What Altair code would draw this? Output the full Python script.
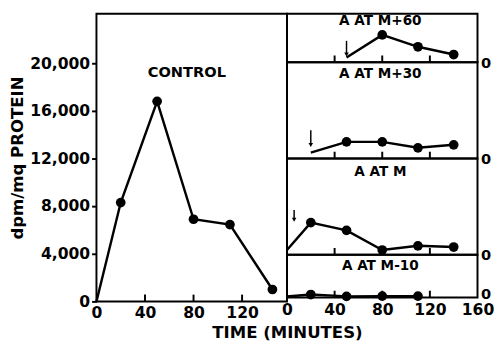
import altair as alt
import pandas as pd

# ---- data ----
control_x = [0, 20, 50, 80, 110, 145]
control_y = [0, 8300, 16800, 6900, 6450, 1000]
control_dot = [False, True, True, True, True, True]

panel_titles = ["A AT M+60", "A AT M+30", "A AT M", "A AT M-10"]
panel_x = [
    [50, 80, 110, 140],
    [20, 50, 80, 110, 140],
    [0, 20, 50, 80, 110, 140],
    [0, 20, 50, 80, 110],
]
panel_y = [
    [400, 2300, 1300, 650],
    [500, 1400, 1400, 900, 1150],
    [400, 2700, 2050, 400, 750, 650],
    [80, 250, 100, 120, 120],
]
panel_ymax = [4080, 8080, 8080, 3590]
arrow_x = [50, 20, 6]
arrow_top = [1800, 2370, 3750]
arrow_tip = [650, 1140, 2940]

left_ticks_x = [0, 40, 80, 120]
left_ticks_y = [0, 4000, 8000, 12000, 16000, 20000]
right_ticks_x = [0, 40, 80, 120, 160]
inner_ticks_x = [40, 80, 120]

FONT = "DejaVu Sans"
LW = 2.5
DOT = 100
TICK = 7


def inner_ticks(X, h):
    return alt.Chart(pd.DataFrame({"t": inner_ticks_x})).mark_rule(
        color="black", strokeWidth=2
    ).encode(x=X, y=alt.value(h), y2=alt.value(h - TICK))


# ---- left (control) panel ----
cdf = pd.DataFrame({"t": control_x, "v": control_y, "dot": control_dot})
LX = alt.X(
    "t:Q",
    scale=alt.Scale(domain=[0, 157], nice=False),
    axis=alt.Axis(
        values=left_ticks_x, grid=False, domain=False, ticks=False,
        labelPadding=4, labelFontSize=16, labelFlush=False,
        title="TIME (MINUTES)", titleX=196, titleY=37, titleAlign="center",
        titleBaseline="alphabetic", titleFontSize=17,
    ),
)
LY = alt.Y(
    "v:Q",
    scale=alt.Scale(domain=[0, 24160], nice=False),
    axis=alt.Axis(
        values=left_ticks_y, format=",d", grid=False, domain=False,
        tickSize=5, tickWidth=2, labelPadding=2, labelFontSize=16,
        title="dpm/mq PROTEIN", titleFontSize=17, titlePadding=3,
    ),
)
cbase = alt.Chart(cdf).encode(x=LX, y=LY)
cline = cbase.mark_line(color="black", strokeWidth=LW)
cpts = cbase.mark_circle(color="black", opacity=1, size=DOT).transform_filter("datum.dot")
ctext = alt.Chart(pd.DataFrame({"label": ["CONTROL"]})).mark_text(
    fontSize=15, color="black", font=FONT, fontWeight="bold"
).encode(text="label:N", x=alt.value(93), y=alt.value(60))
left = alt.layer(cline, cpts, inner_ticks(LX, 296), ctext).properties(width=196, height=296)

# ---- right panels ----
heights = [50, 99, 99, 44]
title_dy = [8, 12, 14, 12]
panels = []
for i in range(4):
    last = i == 3
    h = heights[i]
    df = pd.DataFrame({
        "t": panel_x[i],
        "v": panel_y[i],
        "dot": [False] + [True] * (len(panel_x[i]) - 1),
    })
    if last:
        xaxis = alt.Axis(
            values=right_ticks_x, grid=False, domain=False, ticks=False,
            labelPadding=4, labelFontSize=16, labelFlush=False, title=None,
        )
    else:
        xaxis = alt.Axis(
            values=right_ticks_x, grid=False, domain=False, labels=False,
            ticks=False, title=None,
        )
    X = alt.X("t:Q", scale=alt.Scale(domain=[0, 160], nice=False), axis=xaxis)
    Y = alt.Y(
        "v:Q",
        scale=alt.Scale(domain=[0, panel_ymax[i]], nice=False),
        axis=alt.Axis(
            orient="right", values=[0], grid=False, domain=False, ticks=False,
            labelPadding=3, labelFontSize=15, title=None,
            labelOffset=-4 if last else 0,
        ),
    )
    base = alt.Chart(df).encode(x=X, y=Y)
    layers = [
        inner_ticks(X, h),
        base.mark_line(color="black", strokeWidth=LW),
        base.mark_circle(color="black", opacity=1, size=DOT).transform_filter("datum.dot"),
    ]
    if i < 3:
        adf = pd.DataFrame({"t": [arrow_x[i]], "v": [arrow_top[i]], "v2": [arrow_tip[i]]})
        tdf = pd.DataFrame({"t": [arrow_x[i]], "v": [arrow_tip[i]]})
        layers.append(alt.Chart(adf).mark_rule(color="black", strokeWidth=1.5).encode(x=X, y=Y, y2="v2:Q"))
        layers.append(
            alt.Chart(tdf).mark_point(shape="triangle-down", filled=True, color="black", opacity=1, size=22)
            .encode(x=X, y=Y)
        )
    layers.append(
        alt.Chart(pd.DataFrame({"label": [panel_titles[i]]})).mark_text(
            fontSize=14, color="black", font=FONT, fontWeight="bold"
        ).encode(text="label:N", x=alt.value(96), y=alt.value(title_dy[i]))
    )
    panels.append(alt.layer(*layers).properties(width=196, height=h))

right = alt.vconcat(*panels, spacing=0, bounds="flush")

chart = (
    alt.hconcat(left, right, spacing=0, bounds="flush")
    .properties(padding=0)
    .configure_view(stroke="black", strokeWidth=2)
    .configure_axis(
        labelFont=FONT, titleFont=FONT, labelColor="black", titleColor="black",
        tickColor="black", labelFontWeight="bold", titleFontWeight="bold",
    )
    .configure_text(font=FONT)
)

chart.save("out.html", embed_options={"renderer": "svg", "actions": False})
